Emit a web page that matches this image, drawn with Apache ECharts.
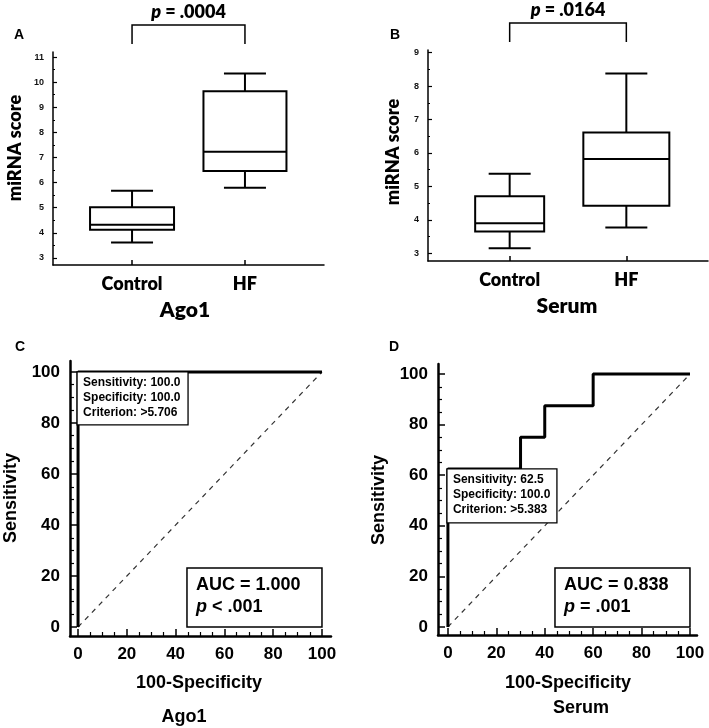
<!DOCTYPE html>
<html>
<head>
<meta charset="utf-8">
<script src="https://cdn.jsdelivr.net/npm/echarts@6/dist/echarts.min.js"></script>
<style>
html, body { margin: 0; padding: 0; background: #fff; }
#main { width: 709px; height: 728px; }
</style>
</head>
<body>
<div id="main"></div>
<script>
// ---- box plots (A: Ago1, B: Serum) ----
const groups = ['Control', 'HF'];
// [min, Q1, median, Q3, max]
const ago1Box = [
  [3.62, 4.12, 4.32, 5.02, 5.68],
  [5.80, 6.46, 7.23, 9.64, 10.34]
];
const serumBox = [
  [3.15, 3.65, 3.90, 4.71, 5.38],
  [3.77, 4.42, 5.82, 6.61, 8.38]
];
const ago1P = '= .0004';
const serumP = '= .0164';
const ago1Ticks = [3, 4, 5, 6, 7, 8, 9, 10, 11];
const ago1Minor = [3.5, 4.5, 5.5, 6.5, 7.5, 8.5, 9.5, 10.5];
const serumTicks = [3, 4, 5, 6, 7, 8, 9];
const serumMinor = [3.5, 4.5, 5.5, 6.5, 7.5, 8.5];

// ---- ROC curves (C: Ago1, D: Serum), [100-specificity, sensitivity] ----
const ago1Roc = [[0, 0], [0, 100], [100, 100]];
const serumRoc = [[0, 0], [0, 62.5], [30, 62.5], [30, 75], [40, 75], [40, 87.5], [60, 87.5], [60, 100], [100, 100]];
const refLine = [[0, 0], [100, 100]];
const rocTicks = [0, 20, 40, 60, 80, 100];
const rocMinor = [5, 10, 15, 25, 30, 35, 45, 50, 55, 65, 70, 75, 85, 90, 95];
const ago1Cut = [0, 100];
const serumCut = [0, 62.5];
const ago1CutText = ['Sensitivity: 100.0', 'Specificity: 100.0', 'Criterion: >5.706'];
const serumCutText = ['Sensitivity: 62.5', 'Specificity: 100.0', 'Criterion: >5.383'];
const ago1Auc = ['1.000', '< .001'];
const serumAuc = ['0.838', '= .001'];

const FT = 'Lato';
const FB = 'Liberation Sans';
const CAP = 42;

function boxRender(widths) {
  return function (params, api) {
    const x = api.value(0);
    const lo = api.coord([x, api.value(1)]);
    const q1 = api.coord([x, api.value(2)]);
    const md = api.coord([x, api.value(3)]);
    const q3 = api.coord([x, api.value(4)]);
    const hi = api.coord([x, api.value(5)]);
    const cx = lo[0], w = widths[params.dataIndex], c = CAP / 2;
    const s = { stroke: '#000', lineWidth: 2 };
    return {
      type: 'group',
      children: [
        { type: 'line', shape: { x1: cx, y1: hi[1], x2: cx, y2: q3[1] }, style: s },
        { type: 'line', shape: { x1: cx, y1: q1[1], x2: cx, y2: lo[1] }, style: s },
        { type: 'line', shape: { x1: cx - c, y1: hi[1], x2: cx + c, y2: hi[1] }, style: s },
        { type: 'line', shape: { x1: cx - c, y1: lo[1], x2: cx + c, y2: lo[1] }, style: s },
        { type: 'rect', shape: { x: cx - w / 2, y: q3[1], width: w, height: q1[1] - q3[1] },
          style: { stroke: '#000', lineWidth: 2, fill: '#fff' } },
        { type: 'line', shape: { x1: cx - w / 2, y1: md[1], x2: cx + w / 2, y2: md[1] }, style: s }
      ]
    };
  };
}

// bracket + p value above the two groups
function bracketRender(pText) {
  return function (params, api) {
    const x0 = api.coord([api.value(0), api.value(2)])[0];
    const x1 = api.coord([api.value(1), api.value(2)])[0];
    const top = params.coordSys.y;
    const s = { stroke: '#000', lineWidth: 1.5, fill: 'none' };
    return {
      type: 'group',
      children: [
        { type: 'polyline', shape: { points: [[x0, top - 8], [x0, top - 27], [x1, top - 27], [x1, top - 8]] }, style: s },
        { type: 'text', style: {
          text: '{i|p} ' + pText, x: (x0 + x1) / 2, y: top - 40, align: 'center', verticalAlign: 'middle',
          fontSize: 18, fontWeight: 800, fontFamily: FT, fill: '#000',
          rich: { i: { fontSize: 18, fontWeight: 800, fontStyle: 'italic', fontFamily: FT, fill: '#000' } }
        } }
      ]
    };
  };
}

function cutRender(lines, w, h) {
  return function (params, api) {
    const p = api.coord([api.value(0), api.value(1)]);
    const kids = [{ type: 'rect', shape: { x: p[0] - 1, y: p[1], width: w, height: h },
      style: { fill: '#fff', stroke: '#000', lineWidth: 1.3 } }];
    lines.forEach(function (t, k) {
      kids.push({ type: 'text', style: {
        text: t, x: p[0] + 5, y: p[1] + 11 + 15 * k, verticalAlign: 'middle',
        fontSize: 12, fontWeight: 'bold', fontFamily: FB, fill: '#000'
      } });
    });
    return { type: 'group', children: kids };
  };
}

function aucRender(auc, pv) {
  return function (params, api) {
    const p = api.coord([api.value(0), api.value(1)]);
    const x = p[0] - 135, y = p[1] - 59;
    return {
      type: 'group',
      children: [
        { type: 'rect', shape: { x: x, y: y, width: 135, height: 59 }, style: { fill: '#fff', stroke: '#000', lineWidth: 1.5 } },
        { type: 'text', style: { text: 'AUC = ' + auc, x: x + 9, y: y + 17, verticalAlign: 'middle',
          fontSize: 18, fontWeight: 'bold', fontFamily: FB, fill: '#000' } },
        { type: 'text', style: { text: '{i|p} ' + pv, x: x + 9, y: y + 39, verticalAlign: 'middle',
          fontSize: 18, fontWeight: 'bold', fontFamily: FB, fill: '#000',
          rich: { i: { fontSize: 18, fontWeight: 'bold', fontStyle: 'italic', fontFamily: FB, fill: '#000' } } } }
      ]
    };
  };
}

function catX(grid) {
  return {
    type: 'value', gridIndex: grid, min: -0.7, max: 1.7, position: 'bottom',
    axisLine: { onZero: false, lineStyle: { color: '#000', width: 1.5 } },
    axisTick: { inside: true, length: 5, customValues: [0, 1], lineStyle: { color: '#000', width: 1.5 } },
    axisLabel: { customValues: [0, 1], margin: 10, formatter: function (v) { return groups[Math.round(v)]; },
      color: '#000', fontSize: 18, fontWeight: 800, fontFamily: FT },
    splitLine: { show: false }
  };
}
function scoreY(grid, min, max, ticks) {
  return {
    type: 'value', gridIndex: grid, min: min, max: max, position: 'left',
    axisLine: { onZero: false, lineStyle: { color: '#000', width: 1.5 } },
    axisTick: { inside: true, length: 4, customValues: ticks, lineStyle: { color: '#000', width: 1.2 } },
    axisLabel: { customValues: ticks, margin: 9, color: '#111', fontSize: 9, fontWeight: 'bold', fontFamily: FB },
    splitLine: { show: false }
  };
}
function rocAxis(grid, min, max, pos) {
  return {
    type: 'value', gridIndex: grid, min: min, max: max, position: pos,
    axisLine: { onZero: false, lineStyle: { color: '#000', width: 2.5 } },
    axisTick: { inside: true, length: 7, customValues: rocTicks, lineStyle: { color: '#000', width: 1.5 } },
    axisLabel: { customValues: rocTicks, margin: 10, color: '#000', fontSize: 17, fontWeight: 'bold', fontFamily: FB },
    splitLine: { show: false }
  };
}
function minorAxis(grid, min, max, pos, ticks, len) {
  return {
    type: 'value', gridIndex: grid, min: min, max: max, position: pos,
    axisLine: { show: false, onZero: false },
    axisTick: { inside: true, length: len, customValues: ticks, lineStyle: { color: '#000', width: 1.2 } },
    axisLabel: { show: false },
    splitLine: { show: false }
  };
}

function txt(text, x, y, size, family, rotate, weight) {
  return {
    type: 'text', x: x, y: y, rotation: rotate ? Math.PI / 2 : 0,
    style: { text: text, fontSize: size, fontWeight: weight || 'bold', fontFamily: family, fill: '#000',
      align: 'center', verticalAlign: 'middle' }
  };
}

const chart = echarts.init(document.getElementById('main'), null, { renderer: 'canvas' });
chart.setOption({
  animation: false,
  backgroundColor: '#fff',
  grid: [
    { left: 53, top: 52, width: 271, height: 213 },
    { left: 428, top: 50, width: 280, height: 211 },
    { left: 70, top: 361, width: 261, height: 275 },
    { left: 438, top: 364, width: 259, height: 271 }
  ],
  xAxis: [
    catX(0),
    catX(1),
    rocAxis(2, -3.3, 103.7, 'bottom'),
    rocAxis(3, -4.1, 102.9, 'bottom'),
    minorAxis(2, -3.3, 103.7, 'bottom', rocMinor, 4),
    minorAxis(3, -4.1, 102.9, 'bottom', rocMinor, 4)
  ],
  yAxis: [
    scoreY(0, 2.72, 11.2, ago1Ticks),
    scoreY(1, 2.77, 9.08, serumTicks),
    rocAxis(2, -3.5, 104.3, 'left'),
    rocAxis(3, -3.2, 104, 'left'),
    minorAxis(0, 2.72, 11.2, 'left', ago1Minor, 2),
    minorAxis(1, 2.77, 9.08, 'left', serumMinor, 2),
    minorAxis(2, -3.5, 104.3, 'left', rocMinor, 4),
    minorAxis(3, -3.2, 104, 'left', rocMinor, 4)
  ],
  series: [
    { type: 'custom', xAxisIndex: 0, yAxisIndex: 0, clip: false, encode: { x: 0, y: [1, 2, 3, 4, 5] },
      data: ago1Box.map(function (b, i) { return [i].concat(b); }), renderItem: boxRender([84, 83]) },
    { type: 'custom', xAxisIndex: 1, yAxisIndex: 1, clip: false, encode: { x: 0, y: [1, 2, 3, 4, 5] },
      data: serumBox.map(function (b, i) { return [i].concat(b); }), renderItem: boxRender([69, 86]) },
    { type: 'custom', xAxisIndex: 0, yAxisIndex: 0, clip: false, encode: { x: [0, 1], y: 2 },
      data: [[0, 1, 11]], renderItem: bracketRender(ago1P) },
    { type: 'custom', xAxisIndex: 1, yAxisIndex: 1, clip: false, encode: { x: [0, 1], y: 2 },
      data: [[0, 1, 9]], renderItem: bracketRender(serumP) },

    { type: 'line', xAxisIndex: 2, yAxisIndex: 2, data: refLine, showSymbol: false, silent: true,
      lineStyle: { color: '#333', width: 1.2, type: [5, 5] } },
    { type: 'line', xAxisIndex: 3, yAxisIndex: 3, data: refLine, showSymbol: false, silent: true,
      lineStyle: { color: '#333', width: 1.2, type: [5, 5] } },
    { type: 'line', xAxisIndex: 2, yAxisIndex: 2, data: ago1Roc, showSymbol: false, silent: true,
      lineStyle: { color: '#000', width: 3 } },
    { type: 'line', xAxisIndex: 3, yAxisIndex: 3, data: serumRoc, showSymbol: false, silent: true,
      lineStyle: { color: '#000', width: 3 } },
    { type: 'custom', xAxisIndex: 2, yAxisIndex: 2, clip: false, z: 5, data: [ago1Cut],
      renderItem: cutRender(ago1CutText, 111, 53) },
    { type: 'custom', xAxisIndex: 3, yAxisIndex: 3, clip: false, z: 5, data: [serumCut],
      renderItem: cutRender(serumCutText, 110, 54) },
    { type: 'custom', xAxisIndex: 2, yAxisIndex: 2, clip: false, z: 5, data: [[100, 0]],
      renderItem: aucRender(ago1Auc[0], ago1Auc[1]) },
    { type: 'custom', xAxisIndex: 3, yAxisIndex: 3, clip: false, z: 5, data: [[100, 0]],
      renderItem: aucRender(serumAuc[0], serumAuc[1]) }
  ],
  graphic: [
    txt('A', 19, 35, 14, FB),
    txt('B', 395, 35, 14, FB),
    txt('C', 20, 347, 14, FB),
    txt('D', 394, 347, 14, FB),
    txt('miRNA score', 15, 148, 18, FT, true, 800),
    txt('miRNA score', 393, 152, 18, FT, true, 800),
    txt('Ago1', 185, 310, 21, FT, false, 800),
    txt('Serum', 567, 306, 21, FT, false, 800),
    txt('Sensitivity', 11, 498, 18, FB, true),
    txt('Sensitivity', 379, 500, 18, FB, true),
    txt('100-Specificity', 199, 683, 18, FB),
    txt('100-Specificity', 568, 683, 18, FB),
    txt('Ago1', 184, 717, 18, FB),
    txt('Serum', 581, 708, 18, FB)
  ]
});
</script>
</body>
</html>
